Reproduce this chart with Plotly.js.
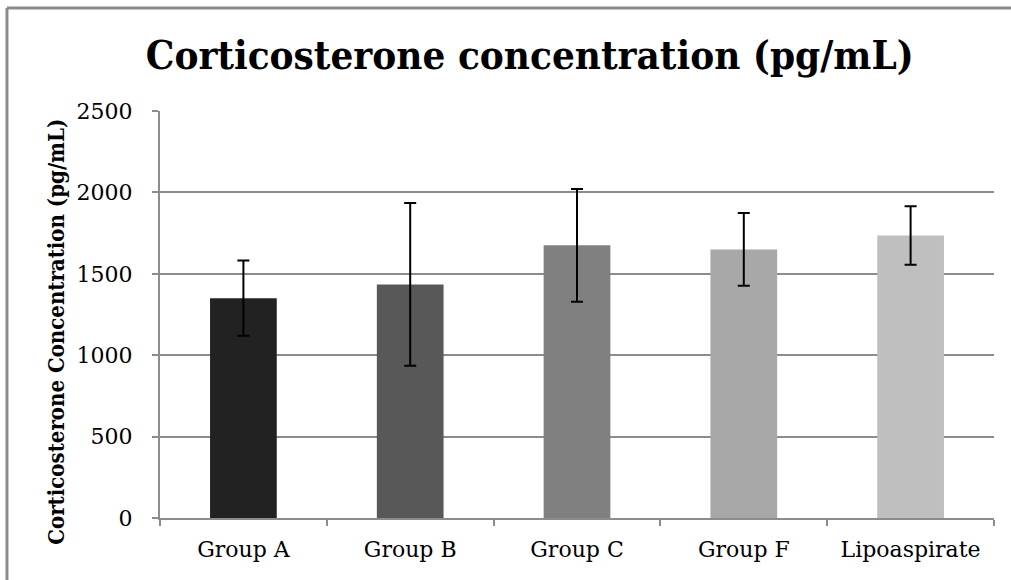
<!DOCTYPE html>
<html>
<head>
<meta charset="utf-8">
<script src="https://cdn.plot.ly/plotly-3.0.1.min.js"></script>
<style>html,body{margin:0;padding:0;background:#fff;}</style>
</head>
<body>
<div id="chart" style="width:1011px;height:580px;"></div>
<script>
const categories = ["Group A", "Group B", "Group C", "Group F", "Lipoaspirate"];
const meanValues = [1350, 1435, 1675, 1650, 1735];
const errorValues = [231, 500, 346, 223, 180];
const barColors = ["#222222", "#585858", "#808080", "#a8a8a8", "#bfbfbf"];
const yTickValues = [0, 500, 1000, 1500, 2000, 2500];
const titleText = "Corticosterone concentration (pg/mL)";
const yTitleText = "Corticosterone Concentration (pg/mL)";

const trace = {
  type: "bar",
  x: categories,
  y: meanValues,
  width: 0.4,
  marker: { color: barColors, line: { width: 0 } },
  error_y: { type: "data", array: errorValues, visible: true, color: "#000000", thickness: 2, width: 6 },
  hoverinfo: "x+y"
};

const gridColor = "#8c8c8c";
const layout = {
  width: 1011,
  height: 580,
  margin: { l: 160, r: 17, t: 111, b: 62 },
  paper_bgcolor: "#ffffff",
  plot_bgcolor: "#ffffff",
  showlegend: false,
  title: {
    text: "<b>" + titleText + "</b>",
    font: { family: "DejaVu Serif Condensed, DejaVu Serif, serif", size: 40, color: "#000000" },
    x: 0.524, xref: "container", xanchor: "center",
    y: 0.905, yref: "container", yanchor: "middle"
  },
  xaxis: {
    type: "category",
    showline: true, linecolor: gridColor, linewidth: 2,
    ticks: "outside", ticklen: 6, tickcolor: gridColor, tickwidth: 2,
    tickson: "boundaries",
    showgrid: false,
    ticklabelstandoff: 11,
    tickfont: { family: "DejaVu Serif, serif", size: 22, color: "#000000" }
  },
  yaxis: {
    range: [0, 2500],
    tickvals: yTickValues,
    ticktext: yTickValues.map(String),
    showline: true, linecolor: gridColor, linewidth: 2,
    ticks: "outside", ticklen: 6, tickcolor: gridColor, tickwidth: 2,
    showgrid: true, gridcolor: gridColor, gridwidth: 2,
    zeroline: false,
    ticklabelstandoff: 15,
    tickfont: { family: "DejaVu Serif, serif", size: 22, color: "#000000" },
    title: {
      text: "<b>" + yTitleText + "\u00a0\u00a0\u00a0\u00a0\u00a0</b>",
      font: { family: "DejaVu Serif Condensed, DejaVu Serif, serif", size: 22, color: "#000000" },
      standoff: 6
    }
  },
  shapes: [
    { type: "line", xref: "paper", yref: "paper", x0: -0.1835, x1: -0.1835, y0: -0.3, y1: 1.253,
      line: { color: "#8c8c8c", width: 3 } },
    { type: "line", xref: "paper", yref: "paper", x0: -0.1835, x1: 1.1, y0: 1.253, y1: 1.253,
      line: { color: "#8c8c8c", width: 3 } }
  ]
};

Plotly.newPlot("chart", [trace], layout, { displayModeBar: false, staticPlot: true });
</script>
</body>
</html>
